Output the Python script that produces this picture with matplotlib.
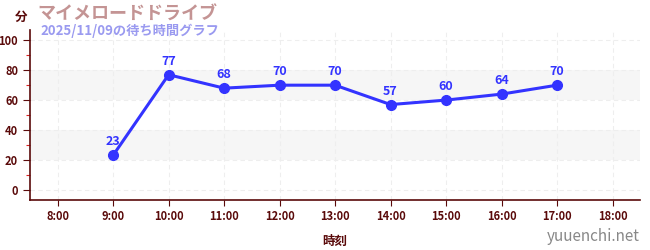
import matplotlib
matplotlib.use("Agg")
import matplotlib.pyplot as plt
from matplotlib.ticker import MultipleLocator

plt.rcParams['font.family'] = ['Noto Sans CJK JP', 'DejaVu Sans']

hours = [9, 10, 11, 12, 13, 14, 15, 16, 17]
waits = [23, 77, 68, 70, 70, 57, 60, 64, 70]
xticks = list(range(8, 19))
xtick_labels = [f"{h}:00" for h in xticks]
yticks = [0, 20, 40, 60, 80, 100]
title = "マイメロードドライブ"
subtitle = "2025/11/09の待ち時間グラフ"

axis_col = "#5a0a0a"
line_col = "#3333ff"

fig = plt.figure(figsize=(6.5, 2.5), dpi=100)
ax = fig.add_axes([0.046, 0.2, 0.939, 0.68])
ax.set_xlim(7.5, 18.5)
ax.set_ylim(-7, 107)

for lo, hi in [(20, 40), (60, 80)]:
    ax.axhspan(lo, hi, color="#f6f6f6", zorder=0, lw=0)

ax.set_xticks(xticks)
ax.set_xticklabels(xtick_labels)
ax.set_yticks(yticks)
ax.yaxis.set_minor_locator(MultipleLocator(10))
ax.grid(True, which="major", color="#eeeeee", ls=(0, (4, 3)), lw=0.8, zorder=1)

ax.plot(hours, waits, color=line_col, lw=2.2, marker="o", ms=7, zorder=3)
for h, w in zip(hours, waits):
    ax.annotate(str(w), (h, w), xytext=(0, 5), textcoords="offset points",
                ha="center", va="bottom", color=line_col, fontsize=9,
                fontweight="bold", zorder=4)

for s in ["top", "right"]:
    ax.spines[s].set_visible(False)
for s in ["left", "bottom"]:
    ax.spines[s].set_color(axis_col)
    ax.spines[s].set_linewidth(1.2)

ax.tick_params(axis="both", which="major", colors=axis_col, labelsize=8, length=4, width=0.8)
ax.tick_params(axis="y", which="minor", colors="#dd2222", length=3, width=0.8)
ax.tick_params(axis="y", which="major", length=5)
for lab in ax.get_xticklabels() + ax.get_yticklabels():
    lab.set_fontweight("bold")
    lab.set_color(axis_col)

ax.set_xlabel("時刻", color=axis_col, fontsize=9, fontweight="bold", labelpad=8)

fig.text(0.033, 0.93, "分", color=axis_col, fontsize=9, fontweight="bold", ha="center", va="center")
fig.text(0.058, 0.945, title, color="#c49494", fontsize=13, fontweight="bold", ha="left", va="center")
fig.text(0.063, 0.875, subtitle, color="#9a9af0", fontsize=9.5, fontweight="bold", ha="left", va="center")
fig.text(0.985, 0.055, "yuuenchi.net", color="#888888", fontsize=11, ha="right", va="center")

fig.savefig("out.png", dpi=100)
